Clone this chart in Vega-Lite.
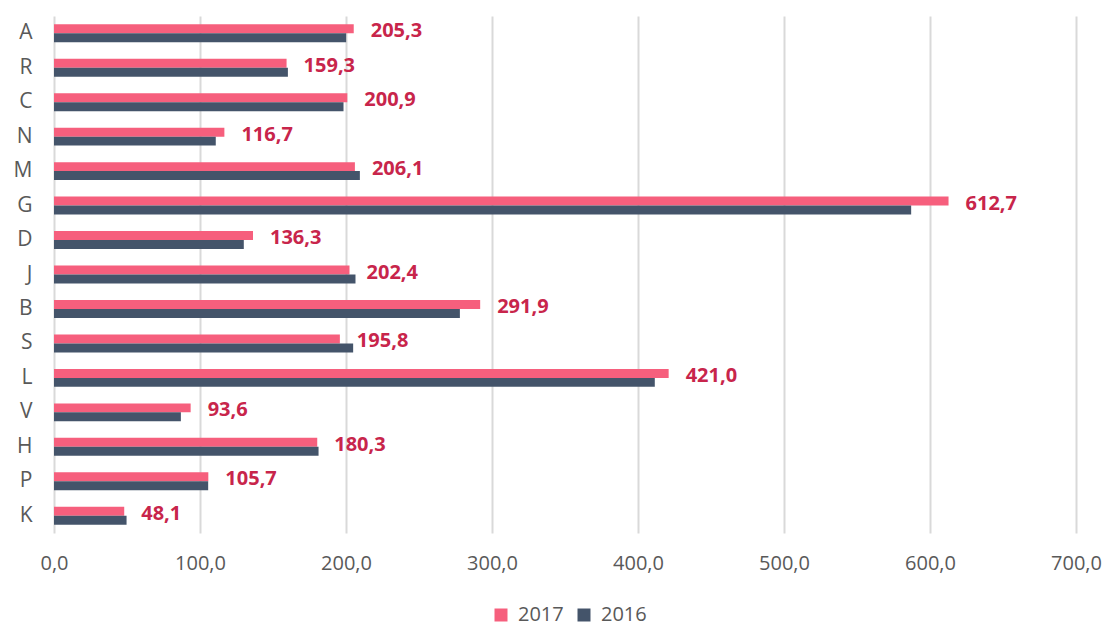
{
  "$schema": "https://vega.github.io/schema/vega-lite/v6.json",
  "width": 1022,
  "height": 517,
  "autosize": "none",
  "padding": {"left": 54, "top": 16, "right": 29, "bottom": 93},
  "background": "white",
  "config": {
    "locale": {"number": {"decimal": ",", "thousands": ".", "grouping": [3], "currency": ["", " €"]}},
    "view": {"stroke": null},
    "font": "Open Sans"
  },
  "data": {
    "values": [
      {"cat": "A", "year": "2017", "value": 205.3},
      {"cat": "A", "year": "2016", "value": 200.1},
      {"cat": "R", "year": "2017", "value": 159.3},
      {"cat": "R", "year": "2016", "value": 160.2},
      {"cat": "C", "year": "2017", "value": 200.9},
      {"cat": "C", "year": "2016", "value": 198.3},
      {"cat": "N", "year": "2017", "value": 116.7},
      {"cat": "N", "year": "2016", "value": 110.8},
      {"cat": "M", "year": "2017", "value": 206.1},
      {"cat": "M", "year": "2016", "value": 209.5},
      {"cat": "G", "year": "2017", "value": 612.7},
      {"cat": "G", "year": "2016", "value": 587.1},
      {"cat": "D", "year": "2017", "value": 136.3},
      {"cat": "D", "year": "2016", "value": 130.0},
      {"cat": "J", "year": "2017", "value": 202.4},
      {"cat": "J", "year": "2016", "value": 206.5},
      {"cat": "B", "year": "2017", "value": 291.9},
      {"cat": "B", "year": "2016", "value": 278.0},
      {"cat": "S", "year": "2017", "value": 195.8},
      {"cat": "S", "year": "2016", "value": 204.9},
      {"cat": "L", "year": "2017", "value": 421.0},
      {"cat": "L", "year": "2016", "value": 411.5},
      {"cat": "V", "year": "2017", "value": 93.6},
      {"cat": "V", "year": "2016", "value": 86.9},
      {"cat": "H", "year": "2017", "value": 180.3},
      {"cat": "H", "year": "2016", "value": 181.2},
      {"cat": "P", "year": "2017", "value": 105.7},
      {"cat": "P", "year": "2016", "value": 105.6},
      {"cat": "K", "year": "2017", "value": 48.1},
      {"cat": "K", "year": "2016", "value": 49.7}
    ]
  },
  "encoding": {
    "y": {
      "field": "cat",
      "type": "nominal",
      "sort": null,
      "scale": {"paddingInner": 0.48, "paddingOuter": 0.24},
      "axis": {
        "title": null,
        "domain": false,
        "ticks": false,
        "labelPadding": 22,
        "labelFontSize": 21,
        "labelColor": "#595959",
        "labelFont": "Open Sans"
      }
    }
  },
  "layer": [
    {
      "mark": {"type": "bar"},
      "encoding": {
        "x": {
          "field": "value",
          "type": "quantitative",
          "scale": {"domain": [0, 700], "nice": false, "zero": true},
          "axis": {
            "title": null,
            "values": [0, 100, 200, 300, 400, 500, 600, 700],
            "format": ".1f",
            "domain": false,
            "ticks": false,
            "grid": true,
            "gridColor": "#D9D9D9",
            "gridWidth": 2,
            "labelPadding": 20,
            "labelFontSize": 20,
            "labelColor": "#595959",
            "labelFont": "Open Sans",
            "labelFlush": false
          }
        },
        "yOffset": {"field": "year", "type": "nominal", "sort": ["2017", "2016"]},
        "color": {
          "field": "year",
          "type": "nominal",
          "scale": {"domain": ["2017", "2016"], "range": ["#F65F7D", "#44546A"]},
          "legend": {
            "title": null,
            "orient": "none",
            "direction": "horizontal",
            "legendX": 437,
            "legendY": 589,
            "padding": 0,
            "symbolType": "square",
            "symbolSize": 169,
            "symbolStrokeWidth": 0,
            "labelFontSize": 20,
            "labelColor": "#595959",
            "labelFont": "Open Sans",
            "labelOffset": 7,
            "columnSpacing": 20
          }
        }
      }
    },
    {
      "transform": [{"filter": "datum.year === '2017'"}],
      "mark": {
        "type": "text",
        "align": "left",
        "baseline": "middle",
        "dx": 17,
        "dy": -2,
        "fontSize": 20,
        "fontWeight": "bold",
        "font": "Open Sans",
        "color": "#C8254B"
      },
      "encoding": {
        "x": {"field": "value", "type": "quantitative"},
        "text": {"field": "value", "type": "quantitative", "format": ".1f"}
      }
    }
  ]
}
